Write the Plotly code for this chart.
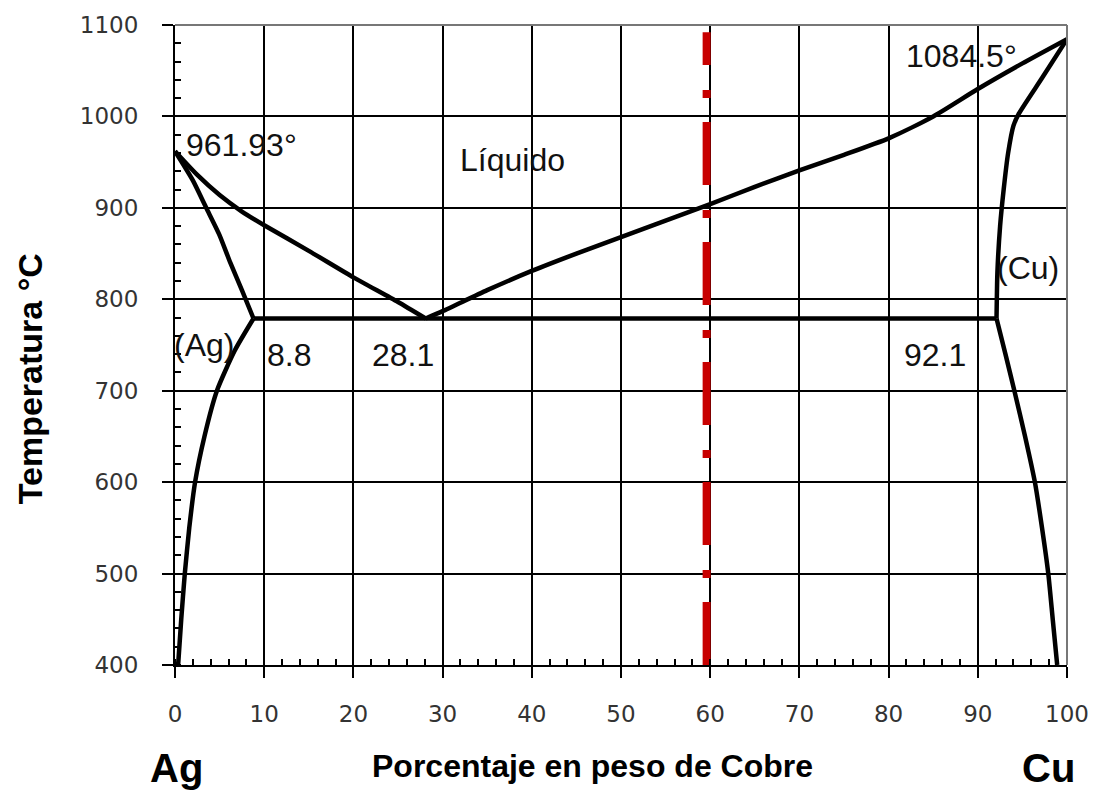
import plotly.graph_objects as go

# --- data (wt% Cu, temperature °C) ---
liq_left_x = [0, 2.5, 5, 7.5, 10, 15, 20, 25, 28.1]
liq_left_t = [961.93, 936, 914, 896, 881, 853, 824, 797, 779]

liq_right_x = [28.1, 30, 35, 40, 45, 50, 55, 60, 65, 70, 75, 80, 85, 90, 95, 100]
liq_right_t = [779, 787, 810, 831, 850, 868, 886, 904, 923, 941, 958, 976, 1000, 1030, 1058, 1084.5]

sol_left_x = [0, 2, 3.5, 5, 6.2, 7.5, 8.8]
sol_left_t = [961.93, 930, 900, 870, 840, 810, 779]

solvus_left_x = [8.8, 6.7, 4.7, 3.3, 2.25, 1.6, 1.1, 0.7, 0.35]
solvus_left_t = [779, 744, 700, 650, 600, 550, 500, 450, 400]

sol_right_x = [100, 97.2, 94.6, 94.0, 93.4, 92.9, 92.5, 92.2, 92.1]
sol_right_t = [1084.5, 1042, 1003, 990, 960, 920, 880, 830, 779]

solvus_right_x = [92.1, 93.1, 94.1, 95.3, 96.4, 97.2, 97.9, 98.4, 98.9]
solvus_right_t = [779, 740, 700, 650, 600, 550, 500, 450, 400]

eutectic_x = [8.8, 92.1]
eutectic_t = [779, 779]

composition_x = [59.6, 59.6]
composition_t = [400, 1092]

labels = [
    ("961.93°", 1.0, 969),
    ("Líquido", 37.8, 952),
    ("1084.5°", 88.2, 1066),
    ("(Ag)", 3.3, 750),
    ("8.8", 12.8, 739),
    ("28.1", 25.6, 739),
    ("92.1", 85.2, 739),
    ("(Cu)", 95.6, 834),
]

x_ticks = list(range(0, 101, 10))
y_ticks = list(range(400, 1101, 100))

fig = go.Figure()

for xs, ts in [(liq_left_x, liq_left_t), (liq_right_x, liq_right_t),
               (sol_left_x, sol_left_t), (solvus_left_x, solvus_left_t),
               (sol_right_x, sol_right_t), (solvus_right_x, solvus_right_t)]:
    fig.add_trace(go.Scatter(x=xs, y=ts, mode="lines",
                             line=dict(color="black", width=4.5, shape="spline", smoothing=0.6),
                             showlegend=False, hoverinfo="skip"))
fig.add_trace(go.Scatter(x=eutectic_x, y=eutectic_t, mode="lines",
                         line=dict(color="black", width=4.5),
                         showlegend=False, hoverinfo="skip"))

fig.add_trace(go.Scatter(x=composition_x, y=composition_t, mode="lines",
                         line=dict(color="#c80000", width=8, dash="63px,24px,8px,25px"),
                         showlegend=False, hoverinfo="skip"))

label_font = dict(family="Liberation Sans, Arial", size=32, color="#111")
for txt, x, t in labels:
    xanchor = "left" if txt == "961.93°" else "center"
    fig.add_annotation(x=x, y=t, text=txt, showarrow=False, font=label_font,
                       xanchor=xanchor, yanchor="middle")

# axis titles and element symbols
bold = "Liberation Sans, Arial"
common = dict(xref="paper", yref="paper", showarrow=False, xanchor="center", yanchor="middle")
fig.add_annotation(x=0.4675, y=-0.158, text="<b>Porcentaje en peso de Cobre</b>",
                   font=dict(family=bold, size=32, color="black"), **common)
fig.add_annotation(x=0.0022, y=-0.161, text="<b>Ag</b>",
                   font=dict(family=bold, size=40, color="black"), **common)
fig.add_annotation(x=0.9787, y=-0.161, text="<b>Cu</b>",
                   font=dict(family=bold, size=40, color="black"), **common)
fig.add_annotation(x=-0.1626, y=0.448, text="<b>Temperatura °C</b>", textangle=-90,
                   font=dict(family=bold, size=34, color="black"), **common)

# frame top/right (grey)
fig.add_shape(type="line", xref="paper", yref="paper", x0=0, x1=1, y0=1, y1=1,
              line=dict(color="#777", width=2))
fig.add_shape(type="line", xref="paper", yref="paper", x0=1, x1=1, y0=0, y1=1,
              line=dict(color="#777", width=2))

tickfont = dict(family="DejaVu Sans", size=23, color="#333")
fig.update_xaxes(range=[0, 100], tickvals=x_ticks, showgrid=True, gridcolor="black",
                 gridwidth=2, zeroline=False, showline=True, linecolor="black", linewidth=2,
                 ticks="outside", ticklen=11, tickwidth=2, tickcolor="black",
                 tickfont=tickfont, ticklabelstandoff=16, automargin=False,
                 minor=dict(dtick=2, ticks="inside", ticklen=6, tickwidth=2,
                            tickcolor="black", showgrid=False))
fig.update_yaxes(range=[400, 1100], tickvals=y_ticks, showgrid=True, gridcolor="black",
                 gridwidth=2, zeroline=False, showline=True, linecolor="black", linewidth=2,
                 ticks="outside", ticklen=11, tickwidth=2, tickcolor="black",
                 tickfont=tickfont, ticklabelstandoff=19, automargin=False,
                 minor=dict(dtick=20, ticks="inside", ticklen=6, tickwidth=2,
                            tickcolor="black", showgrid=False))

fig.update_layout(width=1088, height=782, plot_bgcolor="white", paper_bgcolor="white",
                  margin=dict(l=167, r=29, t=17, b=125, autoexpand=False), showlegend=False)

fig.write_html("out.html")
